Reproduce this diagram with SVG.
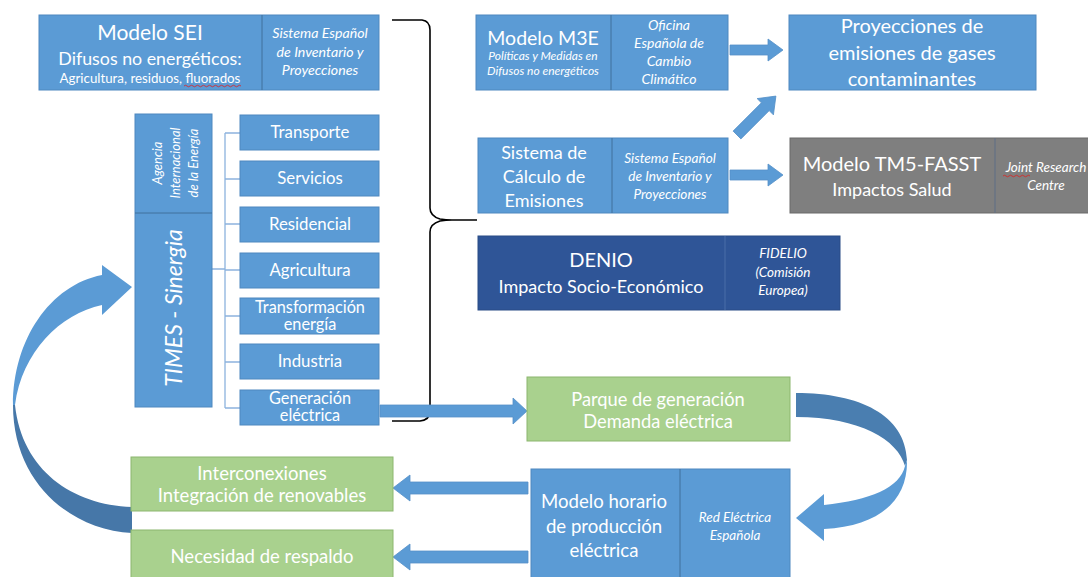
<svg xmlns="http://www.w3.org/2000/svg" width="1088" height="577" viewBox="0 0 1088 577">
<defs>
<style>
.b{fill:#5b9bd5;stroke:#4f88bf;stroke-width:1}
.g{fill:#a9d18e;stroke:#8cb66f;stroke-width:1}
.gr{fill:#7f7f7f;stroke:#6a6a6a;stroke-width:1}
.db{fill:#2f5597;stroke:#2a4c86;stroke-width:1}
.dv{stroke:#41719c;stroke-width:1}
.t{font-family:Lato,"Liberation Sans",sans-serif;fill:#fff;text-anchor:middle}
.i{font-style:italic}
.ar{fill:#5b9bd5;stroke:#5590c8;stroke-width:0.8}
.tree{fill:none;stroke:#8db3de;stroke-width:1.3}
.sq{fill:none;stroke:#e02020;stroke-width:0.8}
</style>
</defs>

<g id="connectors">
  <!-- brace -->
  <path d="M392,20 L422,20 Q430,21 430,30 L430,208 Q430,216 440,219 Q446,220 452,220 L477,220 M452,220 Q446,220 440,221 Q430,224 430,232 L430,411 Q430,420 420,421 L392,421" fill="none" stroke="#000" stroke-width="1.6"/>
  <!-- tree -->
  <path class="tree" d="M212,269 H225 M225,133 V408 M225,133 H240 M225,179 H240 M225,224 H240 M225,270 H240 M225,316 H240 M225,362 H240 M225,408 H240"/>
  <!-- M3E -> Proyecciones -->
  <path class="ar" d="M730,45 H768 V39 L783,50 L768,61 V55 H730 Z"/>
  <!-- Sistema -> TM5 -->
  <path class="ar" d="M730,170 H768 V164 L783,175 L768,186 V180 H730 Z"/>
  <!-- Sistema -> Proyecciones diagonal -->
  <path class="ar" transform="translate(737,135) rotate(-45)" d="M0,-5.5 H40 V-11.5 L55,0 L40,11.5 V5.5 H0 Z"/>
  <!-- Generación -> Parque -->
  <path class="ar" d="M380,405 H513 V398 L527,411 L513,424 V417 H380 Z"/>
  <!-- Modelo horario -> Interconexiones -->
  <path class="ar" d="M528,482 H410 V475 L393,488 L410,501 V494 H528 Z"/>
  <!-- Modelo horario -> Necesidad -->
  <path class="ar" d="M528,551 H410 V544 L393,557 L410,570 V563 H528 Z"/>
  <!-- right curved arrow -->
  <path d="M796,393 C860,393 905,415 907,460 L905,466 C898,440 860,417 796,417 Z" fill="#4a7eb0"/>
  <path d="M907,460 C908,500 880,526 824,529 L824,541 L796,518 L824,494 L824,505 C870,500 900,488 905,466 Z" fill="#5b9bd5"/>
  <!-- left curved arrow -->
  <path d="M13,405 C13,340 50,285 102,275 L102,265 L132,287 L102,315 L102,305 C60,314 22,352 15,405 Z" fill="#5b9bd5"/>
  <path d="M13,405 C13,482 70,530 132,533 L132,507 C72,505 22,470 15,405 Z" fill="#4677a8"/>
</g>

<g id="sei">
  <rect class="b" x="39" y="15" width="340" height="75"/>
  <line class="dv" x1="262" y1="15" x2="262" y2="90"/>
  <text class="t" x="150" y="40" font-size="21">Modelo SEI</text>
  <text class="t" x="150" y="65" font-size="17.8">Difusos no energéticos:</text>
  <text class="t" x="150" y="83" font-size="13.3">Agricultura, residuos, fluorados</text>
  <path class="sq" d="M184,86 q1.5,-1.5 3,0 t3,0 t3,0 t3,0 t3,0 t3,0 t3,0 t3,0 t3,0 t3,0 t3,0 t3,0 t3,0 t3,0 t3,0 t3,0 t3,0 t3,0 t3,0"/>
  <text class="t i" x="320" y="38" font-size="14.2">Sistema Español</text>
  <text class="t i" x="320" y="57" font-size="14.2">de Inventario y</text>
  <text class="t i" x="320" y="75" font-size="14.2">Proyecciones</text>
</g>

<g id="m3e">
  <rect class="b" x="476" y="15" width="252" height="75"/>
  <line class="dv" x1="611" y1="15" x2="611" y2="90"/>
  <text class="t" x="543" y="45" font-size="19.5">Modelo M3E</text>
  <text class="t i" x="543" y="60" font-size="12">Políticas y Medidas en</text>
  <text class="t i" x="543" y="75" font-size="12">Difusos no energéticos</text>
  <text class="t i" x="669" y="30" font-size="14">Oficina</text>
  <text class="t i" x="669" y="48" font-size="14">Española de</text>
  <text class="t i" x="669" y="66" font-size="14">Cambio</text>
  <text class="t i" x="669" y="84" font-size="14">Climático</text>
</g>

<g id="proyecciones">
  <rect class="b" x="789" y="15" width="247" height="75"/>
  <text class="t" x="912" y="33" font-size="20">Proyecciones de</text>
  <text class="t" x="912" y="60" font-size="20">emisiones de gases</text>
  <text class="t" x="912" y="86" font-size="20">contaminantes</text>
</g>

<g id="sistema">
  <rect class="b" x="478" y="138" width="250" height="75"/>
  <line class="dv" x1="612" y1="138" x2="612" y2="213"/>
  <text class="t" x="544" y="159" font-size="18">Sistema de</text>
  <text class="t" x="544" y="183" font-size="18">Cálculo de</text>
  <text class="t" x="544" y="207" font-size="18">Emisiones</text>
  <text class="t i" x="670" y="163" font-size="13.6">Sistema Español</text>
  <text class="t i" x="670" y="181" font-size="13.6">de Inventario y</text>
  <text class="t i" x="670" y="199" font-size="13.6">Proyecciones</text>
</g>

<g id="tm5">
  <rect class="gr" x="790" y="138" width="310" height="75"/>
  <line x1="995" y1="138" x2="995" y2="213" stroke="#5f6f86" stroke-width="1"/>
  <text class="t" x="892" y="171" font-size="20">Modelo TM5-FASST</text>
  <text class="t" x="892" y="196" font-size="18">Impactos Salud</text>
  <text class="t i" x="1046" y="172" font-size="13.5">Joint Research</text>
  <text class="t i" x="1046" y="190" font-size="13.5">Centre</text>
  <path class="sq" d="M1003,176 q1.5,-1.5 3,0 t3,0 t3,0 t3,0 t3,0 t3,0 t3,0 t3,0 t3,0"/>
</g>

<g id="denio">
  <rect class="db" x="478" y="236" width="362" height="74"/>
  <line x1="725" y1="236" x2="725" y2="310" stroke="#4a6ea8" stroke-width="1"/>
  <text class="t" x="601" y="267" font-size="20">DENIO</text>
  <text class="t" x="601" y="293" font-size="18">Impacto Socio-Económico</text>
  <text class="t i" x="783" y="258" font-size="13.5">FIDELIO</text>
  <text class="t i" x="783" y="277" font-size="13.5">(Comisión</text>
  <text class="t i" x="783" y="295" font-size="13.5">Europea)</text>
</g>

<g id="times">
  <rect class="b" x="135" y="114" width="77" height="293"/>
  <line class="dv" x1="135" y1="213" x2="212" y2="213"/>
  <g transform="translate(175,163) rotate(-90)">
    <text class="t i" x="0" y="-13" font-size="13">Agencia</text>
    <text class="t i" x="0" y="5" font-size="13">Internacional</text>
    <text class="t i" x="0" y="23" font-size="13">de la Energía</text>
  </g>
  <text class="t i" transform="translate(182,308) rotate(-90)" x="0" y="0" font-size="23">TIMES - Sinergia</text>
</g>

<g id="transporte"><rect class="b" x="240" y="115" width="139" height="35"/><text class="t" x="310" y="138" font-size="16.8">Transporte</text></g>
<g id="servicios"><rect class="b" x="240" y="161" width="139" height="35"/><text class="t" x="310" y="184" font-size="16.8">Servicios</text></g>
<g id="residencial"><rect class="b" x="240" y="207" width="139" height="35"/><text class="t" x="310" y="230" font-size="16.8">Residencial</text></g>
<g id="agricultura"><rect class="b" x="240" y="253" width="139" height="35"/><text class="t" x="310" y="276" font-size="16.8">Agricultura</text></g>
<g id="transformacion"><rect class="b" x="240" y="298" width="139" height="36"/><text class="t" x="310" y="313" font-size="16.3">Transformación</text><text class="t" x="310" y="330" font-size="16.3">energía</text></g>
<g id="industria"><rect class="b" x="240" y="344" width="139" height="35"/><text class="t" x="310" y="367" font-size="16.8">Industria</text></g>
<g id="generacion"><rect class="b" x="240" y="390" width="139" height="35"/><text class="t" x="310" y="404" font-size="16.3">Generación</text><text class="t" x="310" y="421" font-size="16.3">eléctrica</text></g>

<g id="parque">
  <rect class="g" x="527" y="377" width="263" height="64"/>
  <text class="t" x="658" y="406" font-size="18.3">Parque de generación</text>
  <text class="t" x="658" y="428" font-size="18.3">Demanda eléctrica</text>
</g>

<g id="horario">
  <rect class="b" x="531" y="469" width="259" height="115"/>
  <line class="dv" x1="680" y1="469" x2="680" y2="577"/>
  <text class="t" x="604" y="508" font-size="18.6">Modelo horario</text>
  <text class="t" x="604" y="533" font-size="18.6">de producción</text>
  <text class="t" x="604" y="557" font-size="18.6">eléctrica</text>
  <text class="t i" x="735" y="522" font-size="13.5">Red Eléctrica</text>
  <text class="t i" x="735" y="540" font-size="13.5">Española</text>
</g>

<g id="interconexiones">
  <rect class="g" x="131" y="457" width="262" height="54"/>
  <text class="t" x="262" y="480" font-size="18.5">Interconexiones</text>
  <text class="t" x="262" y="502" font-size="18.5">Integración de renovables</text>
</g>

<g id="respaldo">
  <rect class="g" x="131" y="530" width="262" height="55"/>
  <text class="t" x="262" y="563" font-size="18.5">Necesidad de respaldo</text>
</g>
</svg>
